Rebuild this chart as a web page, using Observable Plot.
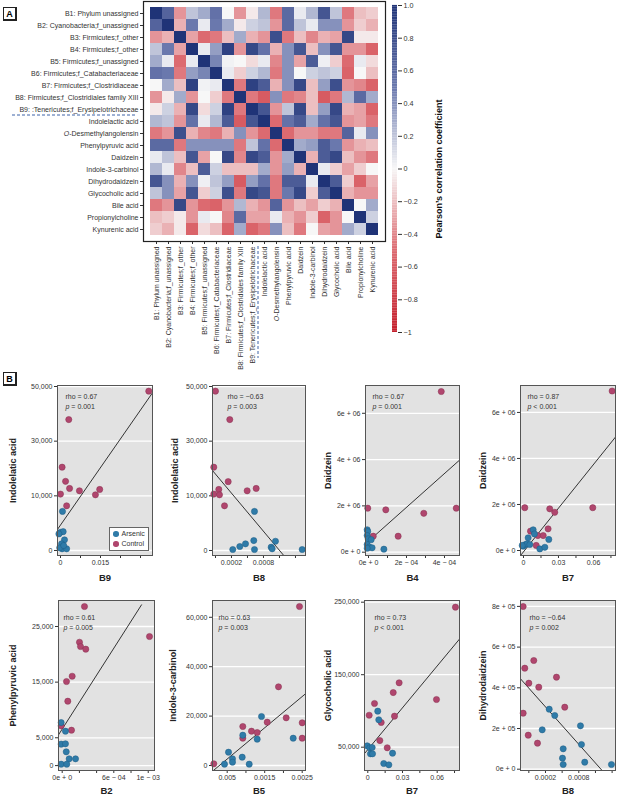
<!DOCTYPE html>
<html><head><meta charset="utf-8">
<script src="https://cdn.jsdelivr.net/npm/d3@7"></script>
<script src="https://cdn.jsdelivr.net/npm/@observablehq/plot@0.6"></script>
<style>
body{margin:0;background:#fff;}
#root{position:relative;width:617px;height:800px;overflow:hidden;font-family:"Liberation Sans",Arial,sans-serif;}
.tag{position:absolute;width:11px;height:11px;border:1px solid #222;border-right-width:2px;border-bottom-width:2px;font:bold 9px "Liberation Sans",sans-serif;display:flex;align-items:center;justify-content:center;background:#fff;box-sizing:content-box;}
.legend{position:absolute;background:#fff;border:1px solid #666;border-right-width:1.5px;border-bottom-width:1.5px;font-size:7px;color:#333;padding:1px 3px;line-height:10px;}
.legend span.dot{display:inline-block;width:5.5px;height:5.5px;border-radius:50%;margin-right:3px;vertical-align:-0.5px;}
</style></head><body><div id="root"></div><script>
// ---------------- Panel A data ----------------
const rowLabels = ["B1: Phylum unassigned","B2: Cyanobacteria;f_unassigned","B3: Firmicutes;f_other","B4: Firmicutes;f_other","B5: Firmicutes;f_unassigned","B6: Firmicutes;f_Catabacteriaceae","B7: Firmicutes;f_Clostridiaceae","B8: Firmicutes;f_Clostridiales family XIII","B9: :Tenericutes;f_Erysipelotrichaceae","Indolelactic acid","O-Desmethylangolensin","Phenylpyruvic acid","Daidzein","Indole-3-carbinol","Dihydrodaidzein","Glycocholic acid","Bile acid","Propionylcholine","Kynurenic acid"];
const colLabels = ["B1: Phylum unassigned","B2: Cyanobacteria;f_unassigned","B3: Firmicutes;f_other","B4: Firmicutes;f_other","B5: Firmicutes;f_unassigned","B6: Firmicutes;f_Catabacteriaceae","B7: Firmicutes;f_Clostridiaceae","B8: Firmicutes;f_Clostridiales family XIII","B9: Tenericutes;f_Erysipelotrichaceae","Indolelactic acid","O-Desmethylangolensin","Phenylpyruvic acid","Daidzein","Indole-3-carbinol","Dihydrodaidzein","Glycocholic acid","Bile acid","Propionylcholine","Kynurenic acid"];
const corr = [
 [1.0,0.65,-0.35,0.2,0.3,0.55,0.0,-0.35,-0.05,0.25,-0.45,0.6,0.05,0.25,0.75,0.2,-0.45,-0.2,-0.15],
 [0.65,1.0,-0.25,0.5,0.05,0.5,0.3,-0.05,0.15,0.2,-0.35,0.6,0.2,0.05,0.4,0.4,-0.35,-0.15,-0.25],
 [-0.35,-0.25,1.0,-0.3,-0.5,-0.45,-0.2,0.3,-0.25,-0.35,0.8,-0.45,-0.2,-0.4,-0.25,-0.3,0.85,-0.05,-0.05],
 [0.2,0.5,-0.3,1.0,0.05,0.35,0.9,-0.35,0.85,0.55,-0.25,0.4,0.75,-0.2,0.4,0.75,-0.35,-0.35,-0.55],
 [0.3,0.05,-0.5,0.05,1.0,0.45,0.02,0.0,-0.1,0.05,-0.4,0.4,-0.3,0.7,0.03,-0.15,-0.5,0.05,-0.1],
 [0.55,0.5,-0.45,0.35,0.45,1.0,0.05,-0.15,0.15,0.25,-0.45,0.4,0.0,0.15,0.2,0.15,-0.55,0.0,-0.2],
 [0.0,0.3,-0.2,0.9,0.02,0.05,1.0,-0.45,0.9,0.7,-0.25,0.4,0.85,-0.2,0.35,0.8,-0.35,-0.4,-0.55],
 [-0.35,-0.05,0.3,-0.35,0.0,-0.15,-0.45,1.0,-0.45,-0.6,0.4,-0.45,-0.4,-0.2,-0.6,-0.45,0.25,0.6,0.3],
 [-0.05,0.15,-0.25,0.85,-0.1,0.15,0.9,-0.45,1.0,0.75,-0.35,0.2,0.85,-0.2,0.35,0.85,-0.25,-0.3,-0.55],
 [0.25,0.2,-0.35,0.55,0.05,0.25,0.7,-0.6,0.75,1.0,-0.5,0.55,0.7,0.3,0.55,0.75,-0.35,-0.3,-0.45],
 [-0.45,-0.35,0.8,-0.25,-0.4,-0.45,-0.25,0.4,-0.35,-0.5,1.0,-0.5,-0.35,-0.35,-0.45,-0.45,0.65,0.05,0.4],
 [0.6,0.6,-0.45,0.4,0.4,0.4,0.4,-0.45,0.2,0.55,-0.5,1.0,0.3,0.35,0.7,0.5,-0.35,-0.25,-0.2],
 [0.05,0.2,-0.2,0.75,-0.3,0.0,0.85,-0.4,0.85,0.7,-0.35,0.3,1.0,-0.25,0.7,0.85,-0.2,-0.35,-0.45],
 [0.25,0.05,-0.4,-0.2,0.7,0.15,-0.2,-0.2,-0.2,0.3,-0.35,0.35,-0.25,1.0,0.05,-0.15,-0.3,-0.15,0.0],
 [0.75,0.4,-0.25,0.4,0.03,0.2,0.35,-0.6,0.35,0.55,-0.45,0.7,0.7,0.05,1.0,0.7,-0.15,-0.55,-0.3],
 [0.2,0.4,-0.3,0.75,-0.15,0.15,0.8,-0.45,0.85,0.75,-0.45,0.5,0.85,-0.15,0.7,1.0,-0.25,-0.35,-0.35],
 [-0.45,-0.35,0.85,-0.35,-0.5,-0.55,-0.35,0.25,-0.25,-0.35,0.65,-0.35,-0.2,-0.3,-0.15,-0.25,1.0,0.0,0.3],
 [-0.2,-0.15,-0.05,-0.35,0.05,0.0,-0.4,0.6,-0.3,-0.3,0.05,-0.25,-0.35,-0.15,-0.55,-0.35,0.0,1.0,0.15],
 [-0.15,-0.25,-0.05,-0.55,-0.1,-0.2,-0.55,0.3,-0.55,-0.45,0.4,-0.2,-0.45,0.0,-0.3,-0.35,0.3,0.15,1.0]
];
const colorbarTicks = [1,0.8,0.6,0.4,0.2,0,-0.2,-0.4,-0.6,-0.8,-1];
const colorbarTickLabels = ["1.0","0.8","0.6","0.4","0.2","0","\u22120.2","\u22120.4","\u22120.6","\u22120.8","\u22121"];
const colorbarTitle = "Pearson\u2019s correlation coefficient";

// ---------------- Panel B data ----------------
const control1 = [[0.0331,48300],[0.0031,37900],[0.0006,20480],[0.0019,15300],[0.0034,12700],[0.0071,11850],[0.0147,12330],[0.0,10630],[0.0131,10370],[0.0023,8180]];
const arsenic1 = [[0.00075,7150],[0.0,3330],[0.001,3450],[-0.0006,3040],[0.0015,1950],[0.0004,1220],[0.0006,310],[0.0023,310],[-0.0003,490],[0.0012,910]];
const fit1 = [[-0.001,3950],[0.0344,47560]];

const control2 = [[-0.0001,48300],[0.000168,37900],[-0.000132,20480],[0.000138,15190],[-0.000038,12330],[-0.000132,10630],[-0.000025,10370],[0.000494,11850],[0.000663,12700],[0.000069,8180]];
const arsenic2 = [[0.000631,7150],[0.000224,180],[0.000356,730],[0.000463,1220],[0.000618,1820],[0.000631,180],[0.000944,600],[0.000963,310],[0.001025,1690],[0.001526,180]];
const fit2 = [[-0.000156,19260],[0.00118,-910]];

const control3 = [[0.000383,6.94e6],[-0.000004,1.90e6],[0.000091,1.83e6],[0.000291,1.68e6],[0.000462,1.90e6],[0.000156,0.69e6],[0.000025,0.69e6]];
const arsenic3 = [[-0.000007,0.97e6],[-0.000004,0.89e6],[-0.000007,0.72e6],[-0.000002,0.58e6],[0.000014,0.54e6],[-0.000007,0.33e6],[0.000005,0.22e6],[0.000019,0.19e6],[0.000081,0.13e6],[-0.000007,0.17e6]];
const fit3 = [[-0.000016,0.36e6],[0.000481,3.99e6]];

const control4 = [[0.076,6.93e6],[0.0011,1.86e6],[0.0225,1.81e6],[0.0268,1.66e6],[0.0594,1.86e6],[0.006,0.84e6],[0.0123,0.65e6],[0.0169,0.65e6],[0.0211,0.94e6],[0.0109,0.22e6]];
const arsenic4 = [[0.0083,0.90e6],[0.0094,0.72e6],[0.004,0.55e6],[0.0217,0.48e6],[-0.0003,0.19e6],[0.0017,0.26e6],[0.0031,0.29e6],[0.0054,0.26e6],[0.014,0.07e6],[0.0183,0.14e6],[-0.0011,0.22e6]];
const fit4 = [[-0.0026,-0.22e6],[0.0789,4.93e6]];

const control5 = [[0.000259,28590],[0.001015,23200],[0.000201,22170],[0.000213,21400],[0.000274,20920],[0.000116,16060],[0.00005,15110],[0.000065,11570],[-0.000012,7150],[0.000108,6360]];
const arsenic5 = [[-0.000012,7740],[0.000038,6180],[-0.000012,3850],[0.000038,3920],[0.000047,2480],[0.000081,1220],[0.000155,1220],[-0.000012,250],[0.000053,250]];
const fit5 = [[-0.00004,5590],[0.000922,28890]];

const control6 = [[0.002428,64370],[0.001868,31860],[0.002073,19310],[0.001567,17530],[0.0025,17290],[0.000916,15790],[0.001148,13890],[0.0013,13360],[0.000916,11050],[0.0025,11050],[0.000143,690]];
const arsenic6 = [[0.001415,19840],[0.000916,12270],[0.0013,10650],[0.00226,11050],[0.000535,5380],[0.000641,2710],[0.000641,1340],[0.000428,530],[0.0009,3360],[0.001087,530]];
const fit6 = [[0.0001,-2430],[0.002588,29030]];

const control7 = [[0.0758,243100],[0.0271,138800],[0.022,125400],[0.0594,115800],[0.0058,110300],[0.0012,94100],[0.0231,92800],[0.0116,84100],[0.0104,59200],[0.0168,49200]];
const arsenic7 = [[0.0086,99700],[0.0095,87800],[-0.0005,51900],[0.0017,49200],[0.0038,49600],[0.0023,40900],[0.0041,40900],[0.0214,41700],[0.0138,27500],[0.0182,25700]];
const fit7 = [[-0.0026,41700],[0.0795,199500]];

const control8 = [[-0.000202,799500],[-0.000011,534200],[-0.000173,496300],[-0.0001,422600],[0.000079,403000],[0.000398,452100],[0.000547,304700],[-0.000202,275200],[-0.000111,167100],[0.000056,127800]];
const arsenic8 = [[0.000267,294800],[0.000367,263900],[0.000141,193600],[0.00083,213300],[0.000848,121400],[0.000519,100200],[0.000506,54100],[0.000519,23100],[0.000907,34400],[0.001388,23100]];
const fit8 = [[-0.00025,444200],[0.00122,-6400]];

const stats = [["rho = 0.67","p = 0.001"],["rho = \u22120.63","p = 0.003"],["rho = 0.67","p = 0.001"],["rho = 0.87","p < 0.001"],
               ["rho = 0.61","p = 0.005"],["rho = 0.63","p = 0.003"],["rho = 0.73","p < 0.001"],["rho = \u22120.64","p = 0.002"]];
const xNames = ["B9","B8","B4","B7","B2","B5","B7","B8"];
const yNames = ["Indolelatic acid","Indolelatic acid","Daidzein","Daidzein","Phenylpyruvic acid","Indole-3-carbinol","Glycocholic acid","Dihydrodaidzein"];

const xTicksB9 = [0,0.0075,0.015,0.0225,0.03], xLabB9 = ["0","","0.015","",""];
const xTicksB8 = [-0.0001,0.0002,0.0005,0.0008,0.0011,0.0014], xLabB8 = ["","0.0002","","0.0008","",""];
const xTicksB4 = [0,0.0001,0.0002,0.0003,0.0004], xLabB4 = ["0e + 0","","2e \u2212 04","","4e \u2212 04"];
const xTicksB7 = [0,0.015,0.03,0.045,0.06,0.075], xLabB7 = ["0","","0.03","","0.06",""];
const xTicksB2 = [0,0.0002,0.0004,0.0006,0.0008,0.001], xLabB2 = ["0e + 0","","","6e \u2212 04","","1e \u2212 03"];
const xTicksB5 = [0.0005,0.001,0.0015,0.002,0.0025], xLabB5 = ["0.005","","0.0015","","0.0025"];

const yTicksIndole = [0,10000,30000,50000], yLabIndole = ["0","10,000","30,000","50,000"];
const yTicksDaid = [0,2e6,4e6,6e6], yLabDaid = ["0e + 0","2e + 06","4e + 06","6e + 06"];
const yTicksPhen = [0,5000,15000,25000], yLabPhen = ["0","5,000","15,000","25,000"];
const yTicksI3C = [0,20000,40000,60000], yLabI3C = ["0","20,000","40,000","60,000"];
const yTicksGly = [50000,150000,250000], yLabGly = ["50,000","150,000","250,000"];
const yTicksDih = [0,2e5,4e5,6e5,8e5], yLabDih = ["0e + 0","2e + 05","4e + 05","6e + 05","8e + 05"];

const groups = ["Arsenic","Control"];

// ---------------- styling / layout ----------------
const FONT = '"Liberation Sans",Arial,sans-serif';
const NAVY = "#1f3377", WHITE = "#f7f7f7", RED = "#c41f2c";
const HEAT_STOPS = [-1, -0.5, 0, 0.5, 1];
const HEAT_COLORS = [RED, "#dc6a70", WHITE, "#6a78ad", NAVY];
const BLUE = "#2f7ba8", PINK = "#b0466e", BLUE_S = "#1d5c84", PINK_S = "#86304f";
const root = document.getElementById("root");
function place(el, left, top) { el.style.position = "absolute"; el.style.left = left + "px"; el.style.top = top + "px"; root.appendChild(el); return el; }
function italicize(svg, startsWith, n) {
  d3.select(svg).selectAll("text").each(function() {
    const t = this.textContent;
    if (t.startsWith(startsWith)) {
      this.textContent = "";
      const s = d3.select(this);
      s.append("tspan").attr("font-style", "italic").text(t.slice(0, n));
      s.append("tspan").text(t.slice(n));
    }
  });
}

// ---------------- Panel A heatmap ----------------
const cells = [];
corr.forEach((row, i) => row.forEach((v, j) => cells.push({row: rowLabels[i], col: colLabels[j], value: v})));
const heat = Plot.plot({
  width: 390, height: 372, marginLeft: 143, marginRight: 5, marginTop: 1, marginBottom: 131,
  style: {fontFamily: FONT, fontSize: "7px", color: "#333", background: "none", overflow: "visible"},
  x: {domain: colLabels, padding: 0, label: null, tickRotate: -90, tickSize: 3, tickPadding: 2},
  y: {domain: rowLabels, padding: 0, label: null, tickSize: 3, tickPadding: 2},
  color: {type: "linear", domain: HEAT_STOPS, range: HEAT_COLORS},
  marks: [
    Plot.cell(cells, {x: "col", y: "row", fill: "value"}),
    Plot.frame({stroke: "#222", strokeWidth: 1.2})
  ]
});
place(heat, 0, 0);
italicize(heat, "O-Desm", 1);
{
  const ys = heat.scale("y"), xs = heat.scale("x");
  const yb = ys.apply("Indolelactic acid");
  const xb = xs.apply("Indolelactic acid");
  const g = d3.select(heat).append("g").attr("stroke", "#3d62a8").attr("stroke-dasharray", "3,2").attr("stroke-width", 1);
  g.append("line").attr("x1", 12).attr("x2", 137).attr("y1", yb).attr("y2", yb);
  g.append("line").attr("x1", xb).attr("x2", xb).attr("y1", 246).attr("y2", 358);
}

// colour bar
const cbSamples = d3.range(-1, 1, 0.01);
const cb = Plot.plot({
  width: 80, height: 345, marginLeft: 12, marginRight: 63, marginTop: 5, marginBottom: 13,
  style: {fontFamily: FONT, fontSize: "7.2px", color: "#333", background: "none", overflow: "visible"},
  x: {domain: [0, 1], axis: null},
  y: {domain: [-1, 1], axis: null},
  color: {type: "linear", domain: HEAT_STOPS, range: HEAT_COLORS},
  marks: [
    Plot.rect(cbSamples, {x1: 0, x2: 1, y1: d => d, y2: d => d + 0.0105, fill: d => d + 0.005}),
    Plot.axisY(colorbarTicks, {anchor: "right", tickSize: 4, tickPadding: 2, label: null,
      tickFormat: d => colorbarTickLabels[colorbarTicks.indexOf(d)]}),
    Plot.text([colorbarTitle], {frameAnchor: "right", dx: 42, rotate: -90, textAnchor: "middle", fontWeight: "bold", fontSize: 9, fill: "#111"})
  ]
});
place(cb, 380, 0);

// ---------------- Panel B scatter plots ----------------
// evenly spaced (non-linear) axis used by the journal for the Indolelatic acid panels
const indoleAxis = d3.scaleLinear().domain(yTicksIndole).range(yTicksIndole.map((_, i) => i));
const panels = [
  {c: control1, a: arsenic1, fit: fit1, frame: [57,385,152,555], x: {domain: [-0.001125,0.0345], ticks: xTicksB9, labels: xLabB9},
   y: {domain: [-0.0915,3.0183], transform: indoleAxis, ticks: yTicksIndole, labels: yLabIndole}, yOff: 44, sDx: 8, sDy: 9, xDy: 25},
  {c: control2, a: arsenic2, fit: fit2, frame: [212,385,305,555], x: {domain: [-0.000156,0.001588], ticks: xTicksB8, labels: xLabB8},
   y: {domain: [-0.0915,3.0183], transform: indoleAxis, ticks: yTicksIndole, labels: yLabIndole}, yOff: 37, sDx: 15, sDy: 9, xDy: 25},
  {c: control3, a: arsenic3, fit: fit3, frame: [365,385,459,555], x: {domain: [-1.58e-5,4.79e-4], ticks: xTicksB4, labels: xLabB4},
   y: {domain: [-1.43e5,7.20e6], ticks: yTicksDaid, labels: yLabDaid}, yOff: 37, sDx: 7, sDy: 9, xDy: 25},
  {c: control4, a: arsenic4, fit: fit4, frame: [520,385,615,555], x: {domain: [-0.00257,0.0789], ticks: xTicksB7, labels: xLabB7},
   y: {domain: [-0.217e6,7.17e6], ticks: yTicksDaid, labels: yLabDaid}, yOff: 37, sDx: 7, sDy: 9, xDy: 25},
  {c: control5, a: arsenic5, fit: fit5, frame: [58,600,154,770], x: {domain: [-4.3e-5,1.073e-3], ticks: xTicksB2, labels: xLabB2},
   y: {domain: [-880,29670], ticks: yTicksPhen, labels: yLabPhen}, yOff: 45, sDx: 5, sDy: 15, xDy: 23},
  {c: control6, a: arsenic6, fit: fit6, frame: [212,600,305,770], x: {domain: [0.000108,0.002588], ticks: xTicksB5, labels: xLabB5},
   y: {domain: [-2024,66800], ticks: yTicksI3C, labels: yLabI3C}, yOff: 39, sDx: 6, sDy: 15, xDy: 23},
  {c: control7, a: arsenic7, fit: fit7, frame: [364,600,459,770], x: {domain: [-0.00285,0.0793], ticks: xTicksB7, labels: xLabB7},
   y: {domain: [17860,252340], ticks: yTicksGly, labels: yLabGly}, yOff: 36, sDx: 10, sDy: 15, xDy: 23},
  {c: control8, a: arsenic8, fit: fit8, frame: [520,600,615,770], x: {domain: [-0.00025,0.001461], ticks: xTicksB8, labels: xLabB8},
   y: {domain: [-6390,829000], ticks: yTicksDih, labels: yLabDih}, yOff: 37, sDx: 9, sDy: 15, xDy: 23}
];

panels.forEach((p, k) => {
  const [fx0, fy0, fx1, fy1] = p.frame;
  const ML = 56, MR = 2, MT = 6, MB = 34;
  const fw = fx1 - fx0, fh = fy1 - fy0;
  const yOpt = {domain: p.y.domain, label: null};
  if (p.y.transform) yOpt.transform = p.y.transform;
  const xFmt = new Map(p.x.ticks.map((v, i) => [v, p.x.labels[i]]));
  const yFmt = new Map(p.y.ticks.map((v, i) => [v, p.y.labels[i]]));
  const pt = arr => arr.map(([x, y]) => ({x, y}));
  const chart = Plot.plot({
    width: ML + fw + MR, height: MT + fh + MB, marginLeft: ML, marginRight: MR, marginTop: MT, marginBottom: MB,
    style: {fontFamily: FONT, fontSize: "7px", color: "#333", background: "none", overflow: "visible"},
    x: {domain: p.x.domain, label: null},
    y: yOpt,
    marks: [
      Plot.frame({fill: "#e2e2e2"}),
      Plot.gridY(p.y.ticks, {stroke: "#fff", strokeOpacity: 1, strokeWidth: 1.3}),
      Plot.axisY(p.y.ticks, {tickSize: 3, tickPadding: 2, label: null, tickFormat: d => yFmt.get(d)}),
      Plot.axisX(p.x.ticks, {tickSize: 3, tickPadding: 2, label: null, tickFormat: d => xFmt.get(d)}),
      Plot.line(pt(p.fit), {x: "x", y: "y", stroke: "#333", strokeWidth: 1, clip: true}),
      Plot.dot(pt(p.c), {x: "x", y: "y", r: 3.1, fill: PINK, stroke: PINK_S, strokeWidth: 0.5}),
      Plot.dot(pt(p.a), {x: "x", y: "y", r: 3.1, fill: BLUE, stroke: BLUE_S, strokeWidth: 0.5}),
      Plot.frame({stroke: "#555", strokeWidth: 1}),
      Plot.text([stats[k][0]], {frameAnchor: "top-left", dx: p.sDx, dy: p.sDy, textAnchor: "start", fill: "#333"}),
      Plot.text([stats[k][1]], {frameAnchor: "top-left", dx: p.sDx, dy: p.sDy + 10, textAnchor: "start", fill: "#333"}),
      Plot.text([xNames[k]], {frameAnchor: "bottom", dy: p.xDy, textAnchor: "middle", fontWeight: "bold", fontSize: 9.5, fill: "#222"}),
      Plot.text([yNames[k]], {frameAnchor: "left", dx: -p.yOff, rotate: -90, textAnchor: "middle", fontWeight: "bold", fontSize: 9, fill: "#222"})
    ]
  });
  italicize(chart, "p ", 1);
  place(chart, fx0 - ML, fy0 - MT);
});

// legend in first scatter panel
const leg = document.createElement("div");
leg.className = "legend";
leg.innerHTML = groups.map(g => `<div><span class="dot" style="background:${g === "Arsenic" ? BLUE : PINK}"></span>${g}</div>`).join("");
place(leg, 109, 527);

// panel tags
const tagA = document.createElement("div"); tagA.className = "tag"; tagA.textContent = "A"; place(tagA, 3, 7);
const tagB = document.createElement("div"); tagB.className = "tag"; tagB.textContent = "B"; place(tagB, 3, 372);
</script></body></html>
